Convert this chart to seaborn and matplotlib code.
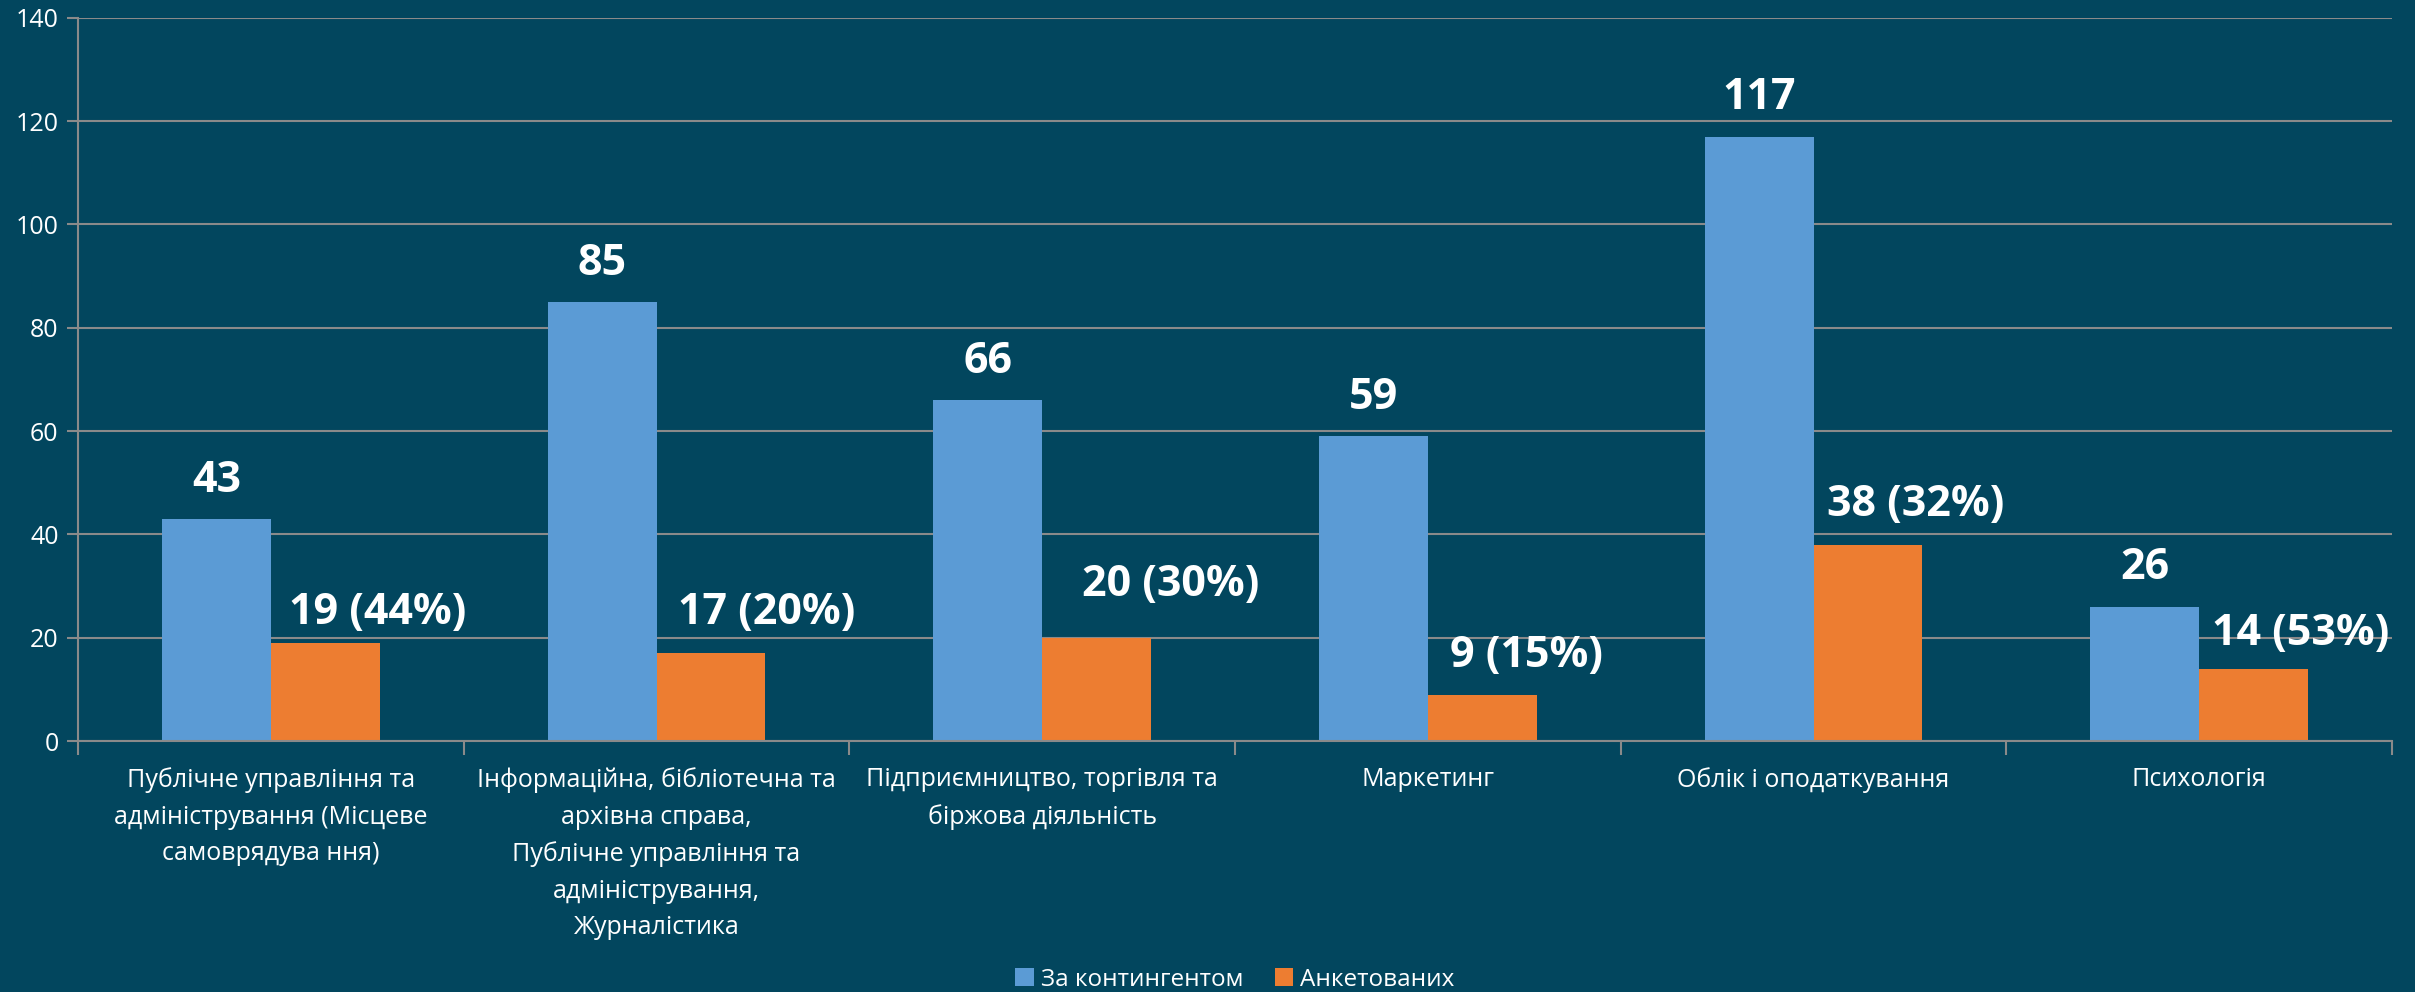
import matplotlib
matplotlib.use('Agg')
import matplotlib.pyplot as plt
import numpy as np
import pandas as pd
import seaborn as sns

categories = [
    'Публічне управління та\nадміністрування (Місцеве\nсамоврядува ння)',
    'Інформаційна, бібліотечна та\nархівна справа,\nПублічне управління та\nадміністрування,\nЖурналістика',
    'Підприємництво, торгівля та\nбіржова діяльність',
    'Маркетинг',
    'Облік і оподаткування',
    'Психологія',
]
series_names = ['За контингентом', 'Анкетованих']
contingent = [43, 85, 66, 59, 117, 26]
surveyed = [19, 17, 20, 9, 38, 14]
surveyed_pct = [44, 20, 30, 15, 32, 53]
y_ticks = [0, 20, 40, 60, 80, 100, 120, 140]

# hand-placed label offsets (points) for the orange series, as in the original
orange_label_dx = [38, 40, 53, 32, 34, 34]
orange_label_dy = [22, 29, 38, 28, 29, 25]

bg = '#02465E'
grid_col = '#8A8A8A'
colors = ['#5B9BD5', '#ED7D31']

sns.set_theme(style='white')
plt.rcParams['font.family'] = ['Open Sans', 'DejaVu Sans']

df = pd.DataFrame({
    'cat': categories * 2,
    'series': [series_names[0]] * 6 + [series_names[1]] * 6,
    'value': contingent + surveyed,
})

fig = plt.figure(figsize=(24.15, 9.92), dpi=100, facecolor=bg)
ax = fig.add_axes([0.0323, 0.253, 0.9582, 0.729])
ax.set_facecolor(bg)

sns.barplot(data=df, x='cat', y='value', hue='series', order=categories,
            hue_order=series_names, palette=colors, width=0.565, gap=0,
            saturation=1, linewidth=0, ax=ax, legend=True)

ax.set_xlim(-0.5, 5.5)
ax.set_ylim(0, 140)
ax.set_yticks(y_ticks)
ax.yaxis.grid(True, color=grid_col, linewidth=1.5)
ax.set_axisbelow(True)
ax.set_xlabel('')
ax.set_ylabel('')

for s in ['top', 'right']:
    ax.spines[s].set_visible(False)
for s in ['left', 'bottom']:
    ax.spines[s].set_color(grid_col)
    ax.spines[s].set_linewidth(1.5)

ax.tick_params(axis='y', colors='white', labelsize=18, length=8, width=1.5,
               color=grid_col, left=True, pad=6)
ax.tick_params(axis='x', which='major', length=0, labelsize=18, colors='white', pad=19)
ax.set_xticks(np.arange(-0.5, 6.0, 1.0), minor=True)
ax.tick_params(axis='x', which='minor', length=10, width=1.5, color=grid_col, bottom=True)
for lab in ax.get_xticklabels():
    lab.set_linespacing(1.6)
    lab.set_color('white')

# value labels
blue_bars, orange_bars = ax.containers[0], ax.containers[1]
for bar, v in zip(blue_bars, contingent):
    ax.annotate(str(v), (bar.get_x() + bar.get_width() / 2, bar.get_height()),
                xytext=(0, 28), textcoords='offset points', ha='center', va='center',
                color='white', fontsize=31, fontweight='bold')
for bar, v, p, dx, dy in zip(orange_bars, surveyed, surveyed_pct,
                             orange_label_dx, orange_label_dy):
    ax.annotate(f'{v} ({p}%)', (bar.get_x() + bar.get_width() / 2, bar.get_height()),
                xytext=(dx, dy), textcoords='offset points', ha='center', va='center',
                color='white', fontsize=31, fontweight='bold')

leg = ax.legend(loc='lower center', bbox_to_anchor=(0.5, -0.36), ncol=2, frameon=False,
                fontsize=17.5, handlelength=0.75, handleheight=0.75, handletextpad=0.3,
                columnspacing=1.3, borderaxespad=0)
for t in leg.get_texts():
    t.set_color('white')

fig.savefig('out.png', dpi=100, facecolor=bg)
